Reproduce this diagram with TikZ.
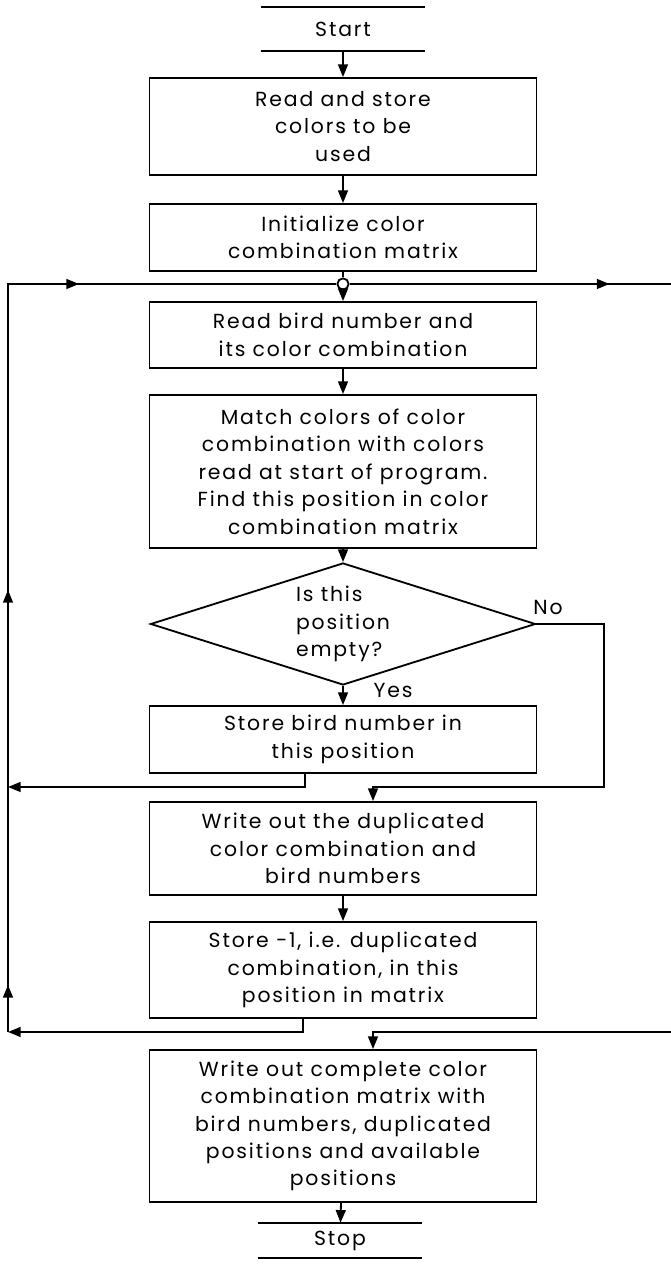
\documentclass[tikz,border=0pt]{standalone}
\usepackage{fontspec}
\setmainfont{Poppins}[LetterSpace=9]
\newcommand{\flowfont}{\fontsize{14.5}{19.5}\selectfont}
\usetikzlibrary{arrows.meta, shapes.geometric, decorations.markings}

\begin{document}
\begin{tikzpicture}[
        box/.style={draw, line width=1.3pt, minimum width=9.675cm, align=center, font=\flowfont, inner sep=2pt},
        term/.style={minimum width=4.1cm, minimum height=1.1cm, font=\flowfont, inner sep=0pt},
        decision/.style={draw, diamond, aspect=3.2, line width=1.3pt, minimum width=9.625cm, minimum height=3.05cm, align=left, font=\flowfont, inner sep=1pt},
        tag/.style={font=\flowfont, inner sep=1pt},
        line/.style={line width=1.3pt},
        arrow/.style={-{Triangle[length=9pt, width=7pt]}, line width=1.3pt},
        midarrow/.style={postaction={decorate, decoration={markings, mark=at position #1 with {\arrow{Triangle[length=9pt, width=7pt]}}}}}
      ]
        \useasboundingbox (0, 0) rectangle (16.775, 31.725);
        \node[term] (start) at (8.575, 31.0) {Start};
        \draw[line] (start.north west) -- (start.north east);
        \draw[line] (start.south west) -- (start.south east);
        \node[box, minimum height=2.425cm] (read)      at (8.575, 28.5625) {Read and store\\colors to be\\used};
        \node[box, minimum height=1.675cm] (init)      at (8.575, 25.7875) {Initialize color\\combination matrix};
        \node[draw, circle, line width=1.3pt, fill=white, inner sep=0pt, minimum size=0.28cm] (junc) at (8.575, 24.625) {};
        \node[box, minimum height=1.65cm]  (bird)      at (8.575, 23.35)   {Read bird number and\\its color combination};
        \node[box, minimum height=3.825cm] (match)     at (8.575, 19.9375) {Match colors of color\\combination with colors\\read at start of program.\\Find this position in color\\combination matrix};
        \node[decision]                    (empty)     at (8.575, 16.125)  {Is this\\position\\empty?};
        \node[box, minimum height=1.675cm] (storebird) at (8.575, 13.2375) {Store bird number in\\this position};
        \node[box, minimum height=2.325cm] (dupl)      at (8.575, 10.5125) {Write out the duplicated\\color combination and\\bird numbers};
        \node[box, minimum height=2.4cm]   (storeneg)  at (8.575, 7.475)   {Store −1, i.e. duplicated\\combination, in this\\position in matrix};
        \node[box, minimum height=3.8cm]   (complete)  at (8.575, 3.575)   {Write out complete color\\combination matrix with\\bird numbers, duplicated\\positions and available\\positions};
        \node[term, minimum height=0.875cm] (stop) at (8.5, 0.7125) {Stop};
        \draw[line] (stop.north west) -- (stop.north east);
        \draw[line] (stop.south west) -- (stop.south east);
        \node[tag] (no)  at (13.7, 16.55)   {No};
        \node[tag] (yes) at (9.825, 14.475) {Yes};
        \coordinate (loopL)  at (0.2, 24.625);
        \coordinate (loopR)  at (16.775, 24.625);
        \coordinate (ret1)   at (0.2, 12.05);
        \coordinate (ret2)   at (0.2, 5.925);
        \coordinate (noturn) at (15.1, 12.05);
        \coordinate (entR)   at (16.775, 5.925);
        \draw[arrow] (start.south) -- (read);
        \draw[arrow] (read) -- (init);
        \draw[line] (init) -- (junc);
        \draw[arrow] (junc) -- (bird);
        \draw[arrow] (bird) -- (match);
        \draw[arrow] (match) -- (empty);
        \draw[arrow] (empty) -- (storebird);
        \draw[arrow] (empty.east) -| (noturn) -| ([xshift=0.75cm]dupl.north);
        \draw[arrow] ([xshift=-0.95cm]storebird.south) |- (ret1);
        \draw[arrow] (dupl) -- (storeneg);
        \draw[arrow] ([xshift=-1cm]storeneg.south) |- (ret2);
        \draw[line, midarrow=1.175cm, midarrow=11.05cm, midarrow=20.475cm] (ret2) -- (loopL) -- (junc);
        \draw[line, midarrow=6.5cm] (junc) -- (loopR);
        \draw[arrow] (entR) -| ([xshift=0.75cm]complete.north);
        \draw[arrow] (complete) -- (stop);
      \end{tikzpicture}
\end{document}
